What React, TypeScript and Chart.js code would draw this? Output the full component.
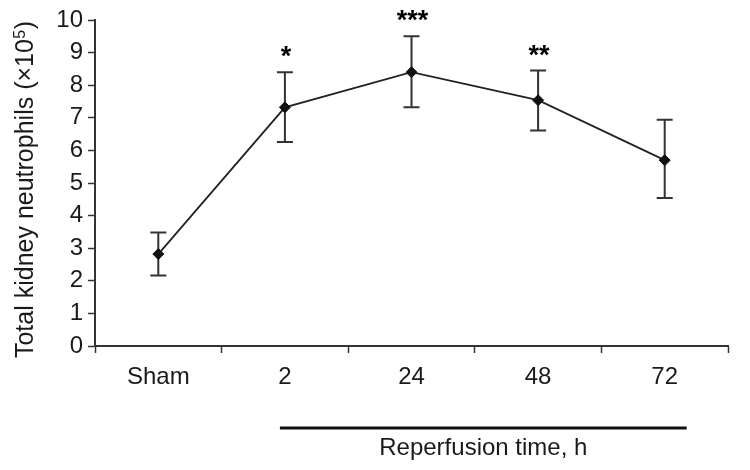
import React, { useEffect, useRef } from "react";
import { Chart, registerables } from "chart.js";

Chart.register(...registerables);

const categories = ["Sham", "2", "24", "48", "72"];
const means = [2.82, 7.32, 8.4, 7.54, 5.7];
const errHigh = [3.48, 8.4, 9.5, 8.45, 6.94];
const errLow = [2.16, 6.26, 7.32, 6.61, 4.54];
const significance = ["", "*", "***", "**", ""];
const yTitleMain = "Total kidney neutrophils (\u00d710";
const yTitleSup = "5";
const yTitleEnd = ")";
const groupLabel = "Reperfusion time, h";

const FONT = "'Liberation Sans', Arial, Helvetica, sans-serif";
const INK = "#1a1a1a";
const AXIS = "#333333";

const overlay = {
  id: "overlay",
  beforeDatasetsDraw(chart: any) {
    const ctx = chart.ctx;
    const xs = chart.scales.x;
    const ys = chart.scales.y;
    ctx.save();
    ctx.strokeStyle = AXIS;
    ctx.lineWidth = 2;
    const cap = 8;
    categories.forEach((_, i) => {
      const px = xs.getPixelForValue(i);
      const t = ys.getPixelForValue(errHigh[i]);
      const b = ys.getPixelForValue(errLow[i]);
      ctx.beginPath();
      ctx.moveTo(px, t);
      ctx.lineTo(px, b);
      ctx.moveTo(px - cap, t);
      ctx.lineTo(px + cap, t);
      ctx.moveTo(px - cap, b);
      ctx.lineTo(px + cap, b);
      ctx.stroke();
    });
    ctx.restore();
  },
  afterDraw(chart: any) {
    const ctx = chart.ctx;
    const xs = chart.scales.x;
    const ys = chart.scales.y;
    const area = chart.chartArea;
    ctx.save();
    // significance stars
    ctx.fillStyle = "#000";
    ctx.font = `bold 27px ${FONT}`;
    ctx.textAlign = "center";
    ctx.textBaseline = "alphabetic";
    significance.forEach((s, i) => {
      if (!s) return;
      const px = xs.getPixelForValue(i);
      const t = ys.getPixelForValue(errHigh[i]);
      ctx.fillText(s, px + 1, t - 7);
    });
    // group bar
    const x0 = xs.getPixelForValue(1) - 5;
    const x1 = xs.getPixelForValue(4) + 22;
    const by = area.bottom + 82;
    ctx.strokeStyle = "#111";
    ctx.lineWidth = 3;
    ctx.beginPath();
    ctx.moveTo(x0, by);
    ctx.lineTo(x1, by);
    ctx.stroke();
    ctx.fillStyle = INK;
    ctx.font = `24px ${FONT}`;
    ctx.textBaseline = "middle";
    ctx.fillText(groupLabel, (x0 + x1) / 2, by + 20);
    // y title with superscript
    const cy = (area.top + area.bottom) / 2 + 7;
    ctx.translate(25, cy);
    ctx.rotate(-Math.PI / 2);
    ctx.font = `25px ${FONT}`;
    const w1 = ctx.measureText(yTitleMain).width;
    const w3 = ctx.measureText(yTitleEnd).width;
    ctx.font = `16px ${FONT}`;
    const w2 = ctx.measureText(yTitleSup).width;
    const total = w1 + w2 + w3;
    let sx = -total / 2;
    ctx.textAlign = "left";
    ctx.textBaseline = "alphabetic";
    ctx.font = `25px ${FONT}`;
    ctx.fillText(yTitleMain, sx, 8);
    sx += w1;
    ctx.font = `16px ${FONT}`;
    ctx.fillText(yTitleSup, sx + 0.5, 0);
    sx += w2 + 1;
    ctx.font = `25px ${FONT}`;
    ctx.fillText(yTitleEnd, sx, 8);
    ctx.restore();
  },
};

export default function App() {
  const ref = useRef<HTMLCanvasElement>(null);
  useEffect(() => {
    if (!ref.current) return;
    const chart = new Chart(ref.current, {
      type: "line",
      data: {
        labels: categories,
        datasets: [
          {
            data: means,
            borderColor: "#222",
            borderWidth: 1.8,
            pointStyle: "rectRot",
            pointRadius: 5.5,
            pointBackgroundColor: "#111",
            pointBorderColor: "#111",
            pointBorderWidth: 1,
            tension: 0,
          },
        ],
      },
      options: {
        responsive: false,
        animation: false,
        devicePixelRatio: 1,
        layout: { padding: { left: 0, top: 20, right: 22, bottom: 0 } },
        plugins: { legend: { display: false }, tooltip: { enabled: false } },
        scales: {
          x: {
            offset: true,
            grid: {
              offset: true,
              drawOnChartArea: false,
              drawTicks: true,
              tickLength: 7,
              tickWidth: 1.5,
              tickColor: AXIS,
            },
            border: { display: true, color: AXIS, width: 2 },
            ticks: { color: INK, font: { family: FONT, size: 24 }, padding: 10, maxRotation: 0 },
            afterFit: (s: any) => {
              s.height = 124;
            },
          },
          y: {
            min: 0,
            max: 10,
            grid: {
              drawOnChartArea: false,
              drawTicks: true,
              tickLength: 7,
              tickWidth: 1.5,
              tickColor: AXIS,
            },
            border: { display: true, color: AXIS, width: 2 },
            ticks: { stepSize: 1, color: INK, font: { family: FONT, size: 24 }, padding: 5 },
            afterFit: (s: any) => {
              s.width = 95;
            },
          },
        },
      },
      plugins: [overlay],
    });
    return () => chart.destroy();
  }, []);
  return (
    <div style={{ position: "absolute", left: 0, top: 0, width: 750, height: 470, background: "#fff" }}>
      <canvas ref={ref} width={750} height={470} style={{ display: "block" }} />
    </div>
  );
}
